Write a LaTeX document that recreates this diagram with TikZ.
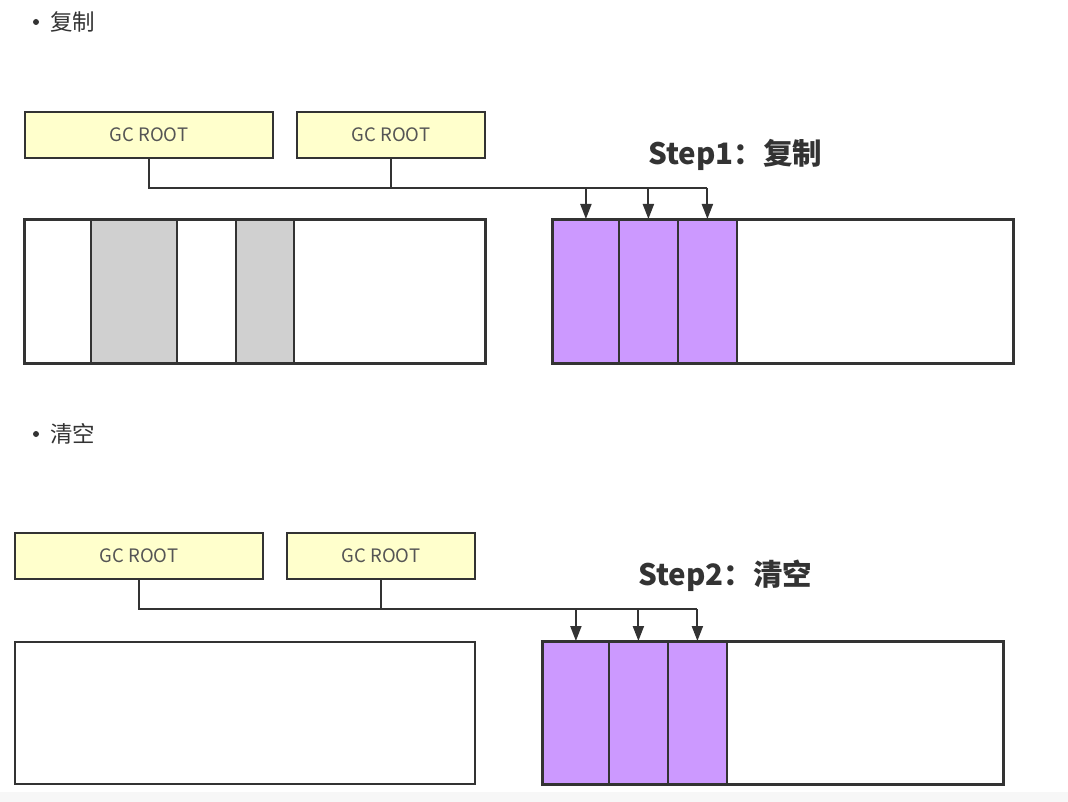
\documentclass[tikz,border=0pt]{standalone}
\usepackage{fontspec}
\setmainfont{Noto Sans CJK SC}
\usetikzlibrary{arrows.meta,positioning}
\definecolor{lineC}{HTML}{333333}
\definecolor{rootF}{HTML}{FFFFCC}
\definecolor{objF}{HTML}{CC99FF}
\definecolor{garbF}{HTML}{D0D0D0}
\definecolor{txtC}{HTML}{333333}
\definecolor{rootT}{HTML}{555555}
\definecolor{bandC}{HTML}{F7F7F7}
\tikzset{
  rootbox/.style={draw=lineC,line width=2pt,fill=rootF,inner sep=0pt,anchor=north west,text=rootT,font=\fontsize{18.5}{20}\selectfont},
  membox/.style={draw=lineC,line width=2pt,fill=white,inner sep=0pt,anchor=north west,minimum width=460pt,minimum height=143pt},
  cellbox/.style={draw=lineC,line width=1.8pt,inner sep=0pt,anchor=north west,minimum height=143pt},
  wire/.style={draw=lineC,line width=2pt},
  ptr/.style={wire,-{Triangle[length=15pt,width=11pt]}},
  bullettxt/.style={text=txtC,font=\fontsize{22.5}{26}\selectfont,anchor=west,inner sep=0pt},
  steptxt/.style={text=txtC,font=\bfseries\fontsize{29.5}{34}\selectfont,anchor=west,inner sep=0pt},
}
\begin{document}
\begin{tikzpicture}[x=1pt,y=-1pt]
\useasboundingbox (0,0) rectangle (1068,802);
\fill[bandC] (0,792) rectangle (1068,802);
% ---------- top ----------
\fill[txtC] (36,22) circle (3pt);
\node[bullettxt] (b1) at (50,22) {复制};
\node[rootbox,minimum width=248pt,minimum height=46pt] (r1) at (24,111) {GC ROOT};
\node[rootbox,minimum width=188pt,minimum height=46pt] (r2) at (296,111) {GC ROOT};
\node[membox] (m1) at (24,219) {};
\node[cellbox,fill=garbF,minimum width=86pt] (g1) at (90,219) {};
\node[cellbox,fill=garbF,minimum width=58pt] (g2) at (235,219) {};
\draw[lineC,line width=2pt] (m1.north west) rectangle (m1.south east);
\node[membox] (m2) at (552,219) {};
\node[cellbox,fill=objF,minimum width=66pt] (p1) at (552,219) {};
\node[cellbox,fill=objF,minimum width=59pt] (p2) at (618,219) {};
\node[cellbox,fill=objF,minimum width=59pt] (p3) at (677,219) {};
\draw[lineC,line width=2pt] (m2.north west) rectangle (m2.south east);
\node[steptxt] (s1) at (648,155) {Step1：复制};
\coordinate (j1) at (r1.south |- 0,188);
\coordinate (j3) at (p3.north |- 0,188);
\draw[wire] (r1.south) -- (j1) -- (j3);
\draw[wire] (r2.south) -- (r2.south |- j1);
\draw[ptr] (p1.north |- j1) -- (p1.north);
\draw[ptr] (p2.north |- j1) -- (p2.north);
\draw[ptr] (j3) -- (p3.north);
% ---------- bottom ----------
\fill[txtC] (36,434) circle (3pt);
\node[bullettxt] (b2) at (50,434) {清空};
\node[rootbox,minimum width=248pt,minimum height=46pt] (r3) at (14,532) {GC ROOT};
\node[rootbox,minimum width=188pt,minimum height=46pt] (r4) at (286,532) {GC ROOT};
\node[membox,minimum height=142pt] (m3) at (14,641) {};
\node[membox,minimum height=142pt] (m4) at (542,641) {};
\node[cellbox,fill=objF,minimum width=66pt,minimum height=142pt] (q1) at (542,641) {};
\node[cellbox,fill=objF,minimum width=59pt,minimum height=142pt] (q2) at (608,641) {};
\node[cellbox,fill=objF,minimum width=59pt,minimum height=142pt] (q3) at (667,641) {};
\draw[lineC,line width=2pt] (m4.north west) rectangle (m4.south east);
\node[steptxt] (s2) at (638,576) {Step2：清空};
\coordinate (k1) at (r3.south |- 0,609);
\coordinate (k3) at (q3.north |- 0,609);
\draw[wire] (r3.south) -- (k1) -- (k3);
\draw[wire] (r4.south) -- (r4.south |- k1);
\draw[ptr] (q1.north |- k1) -- (q1.north);
\draw[ptr] (q2.north |- k1) -- (q2.north);
\draw[ptr] (k3) -- (q3.north);
\end{tikzpicture}
\end{document}
